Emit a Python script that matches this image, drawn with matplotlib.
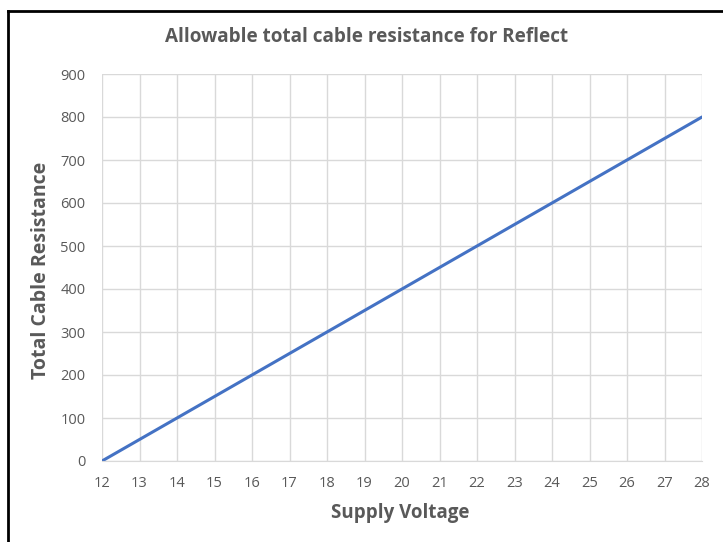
import matplotlib
matplotlib.use('Agg')
import matplotlib.pyplot as plt
from matplotlib.lines import Line2D

# data
voltage = [12, 13, 14, 15, 16, 17, 18, 19, 20, 21, 22, 23, 24, 25, 26, 27, 28]
resistance = [0, 50, 100, 150, 200, 250, 300, 350, 400, 450, 500, 550, 600, 650, 700, 750, 800]
y_ticks = [0, 100, 200, 300, 400, 500, 600, 700, 800, 900]

plt.rcParams['font.family'] = ['Open Sans', 'DejaVu Sans']

W, H = 723, 542
fig = plt.figure(figsize=(W / 100, H / 100), dpi=100)
ax = fig.add_axes([102 / W, 1 - 461 / H, (702 - 102) / W, (461 - 74) / H])

ax.plot(voltage, resistance, color='#4472C4', linewidth=2.2, solid_capstyle='round')

ax.set_xlim(12, 28)
ax.set_ylim(0, 900)
ax.set_xticks(voltage)
ax.set_yticks(y_ticks)
ax.grid(True, color='#d9d9d9', linewidth=1)
ax.set_axisbelow(True)
for s in ['top', 'right', 'left']:
    ax.spines[s].set_visible(False)
ax.spines['bottom'].set_color('#d9d9d9')
ax.tick_params(axis='both', length=0, labelsize=10.5, labelcolor='#595959')
ax.tick_params(axis='x', pad=11)
ax.tick_params(axis='y', pad=12)

ax.set_xlabel('Supply Voltage', fontsize=13.5, fontweight='bold', color='#595959')
ax.set_ylabel('Total Cable Resistance', fontsize=14, fontweight='bold', color='#595959')
ax.xaxis.set_label_coords((400 - 102) / 600, -(513 - 461) / 387)
ax.yaxis.set_label_coords(-(102 - 41) / 600, (461 - 270) / 387)
ax.xaxis.label.set_va('center')
ax.yaxis.label.set_va('center')
fig.text(367 / W, 1 - 37 / H, 'Allowable total cable resistance for Reflect',
         ha='center', va='center', fontsize=13.6, fontweight='bold', color='#595959')

# outer frame of the screenshot
fig.add_artist(Line2D([8 / W, 8 / W], [0, 1 - 11 / H], color='black', linewidth=2))
fig.add_artist(Line2D([8 / W, 1], [1 - 11 / H, 1 - 11 / H], color='black', linewidth=2))

fig.savefig('out.png', dpi=100)
